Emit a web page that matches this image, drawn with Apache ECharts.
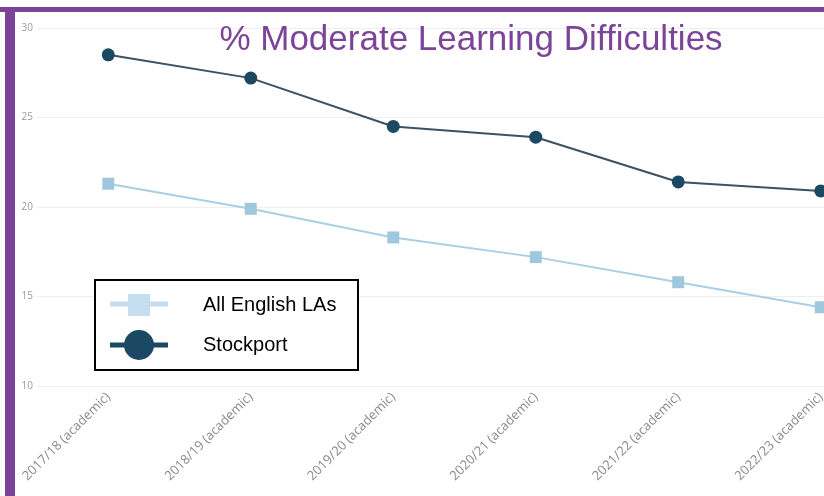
<!DOCTYPE html>
<html>
<head>
<meta charset="utf-8">
<script src="https://cdn.jsdelivr.net/npm/echarts@6/dist/echarts.min.js"></script>
<style>
  html, body { margin: 0; padding: 0; background: #fff; overflow: hidden; width: 824px; height: 496px; }
  /* canvas is wider than the window so the plot area continues past the right border */
  #chart { width: 892px; height: 496px; }
</style>
</head>
<body>
<div id="chart"></div>
<script>
// Academic years on the x axis
var years = [
  '2017/18 (academic)', '2018/19 (academic)', '2019/20 (academic)',
  '2020/21 (academic)', '2021/22 (academic)', '2022/23 (academic)'
];
// Percentage of pupils with moderate learning difficulties
var stockport = [28.5, 27.2, 24.5, 23.9, 21.4, 20.9];
var allEnglishLAs = [21.3, 19.9, 18.3, 17.2, 15.8, 14.4];

var seriesNames = ['All English LAs', 'Stockport'];
var titleText = '% Moderate Learning Difficulties';

var purple = '#7c4498';
var darkBlue = '#1b4862';
var lightBlue = '#a9cfe4';

var chart = echarts.init(document.getElementById('chart'));
chart.setOption({
  animation: false,
  backgroundColor: '#fff',
  grid: { left: 37, right: 0, top: 28, height: 358, containLabel: false },
  xAxis: {
    type: 'category',
    data: years,
    boundaryGap: true,
    axisLine: { show: false },
    axisTick: { show: false },
    axisLabel: {
      rotate: 45, margin: 9, interval: 0,
      color: '#8a8a8a', fontFamily: 'Open Sans', fontSize: 13
    }
  },
  yAxis: {
    type: 'value', min: 10, max: 30, interval: 5,
    axisLine: { show: false },
    axisTick: { show: false },
    axisLabel: { margin: 4, color: '#9a9a9a', fontFamily: 'Open Sans', fontSize: 10 },
    splitLine: { lineStyle: { color: '#eeeeee', width: 1 } }
  },
  series: [
    {
      name: seriesNames[0], type: 'line', data: allEnglishLAs,
      symbol: 'rect', symbolSize: 12,
      lineStyle: { color: lightBlue, width: 2 },
      itemStyle: { color: '#9fc8de' }
    },
    {
      name: seriesNames[1], type: 'line', data: stockport,
      symbol: 'circle', symbolSize: 13,
      lineStyle: { color: '#3a5262', width: 2 },
      itemStyle: { color: darkBlue }
    }
  ],
  graphic: [
    // frame bars
    { type: 'rect', left: 0, top: 7, shape: { width: 892, height: 5 }, style: { fill: purple }, z: 10 },
    { type: 'rect', left: 5, top: 7, shape: { width: 10, height: 489 }, style: { fill: purple }, z: 10 },
    // heading
    { type: 'text', x: 471, y: 40, z: 10,
      style: { text: titleText, fill: purple, font: '35px "Liberation Sans"', align: 'center', verticalAlign: 'middle' } },
    // key box
    { type: 'rect', x: 95, y: 280, shape: { width: 263, height: 90 }, z: 10,
      style: { fill: '#fff', stroke: '#000', lineWidth: 2 } },
    { type: 'line', z: 11, shape: { x1: 110, y1: 304, x2: 168, y2: 304 },
      style: { stroke: '#c4def0', lineWidth: 5 } },
    { type: 'rect', z: 12, x: 128, y: 294, shape: { width: 22, height: 22 }, style: { fill: '#c4def0' } },
    { type: 'line', z: 11, shape: { x1: 110, y1: 345, x2: 168, y2: 345 },
      style: { stroke: darkBlue, lineWidth: 5 } },
    { type: 'circle', z: 12, shape: { cx: 139, cy: 345, r: 15 }, style: { fill: darkBlue } },
    { type: 'text', z: 12, x: 203, y: 305,
      style: { text: seriesNames[0], fill: '#000', font: '20px "Liberation Sans"', verticalAlign: 'middle' } },
    { type: 'text', z: 12, x: 203, y: 345,
      style: { text: seriesNames[1], fill: '#000', font: '20px "Liberation Sans"', verticalAlign: 'middle' } }
  ]
});
</script>
</body>
</html>
